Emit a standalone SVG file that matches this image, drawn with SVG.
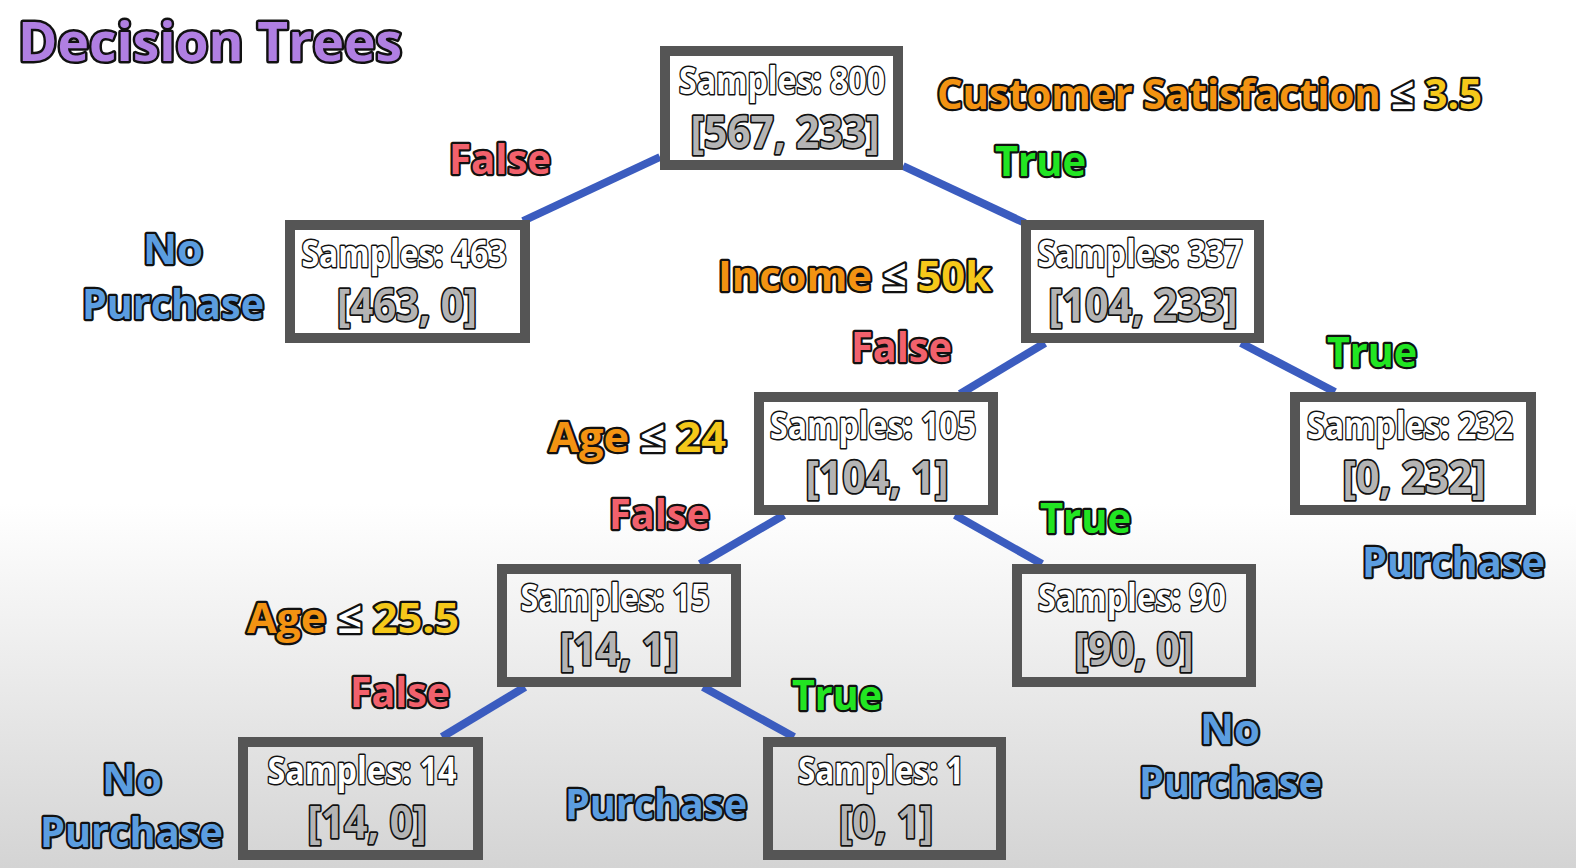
<svg xmlns="http://www.w3.org/2000/svg" width="1576" height="868" viewBox="0 0 1576 868">
<defs>
<linearGradient id="bg" x1="0" y1="0" x2="0" y2="1">
<stop offset="0" stop-color="#ffffff"/>
<stop offset="0.58" stop-color="#ffffff"/>
<stop offset="1" stop-color="#d4d4d4"/>
</linearGradient>
</defs>
<style>
text{font-family:"Open Sans","Liberation Sans",sans-serif;font-weight:700;paint-order:stroke;stroke:#111;stroke-linejoin:round}
.box{fill:none;stroke:#555;stroke-width:10}
.edge{stroke:#3b5cbf;stroke-width:8;stroke-linecap:butt}
.s{font-size:37px;fill:#fff;stroke-width:3;text-anchor:middle}
.v{font-size:45px;fill:#b4b4b4;stroke-width:3.5;text-anchor:middle}
.lab{font-size:42px;stroke-width:4.5}
.f{fill:#f2616c}
.t{fill:#22e522}
.o{fill:#f39312}
.y{fill:#f5c81a}
.w{fill:#ffffff}
.b{fill:#5b9de0}
.title{font-size:54px;fill:#b07fe2;stroke-width:5}
</style>
<rect width="1576" height="868" fill="url(#bg)"/>
<text class="title" x="18" y="61" textLength="384" lengthAdjust="spacingAndGlyphs">Decision Trees</text>

<g id="connectors">
<line class="edge" x1="660" y1="157" x2="523" y2="221"/>
<line class="edge" x1="903" y1="166" x2="1025" y2="223"/>
<line class="edge" x1="1045" y1="343" x2="960" y2="394"/>
<line class="edge" x1="1241" y1="343" x2="1335" y2="392"/>
<line class="edge" x1="784" y1="515" x2="700" y2="564"/>
<line class="edge" x1="955" y1="515" x2="1042" y2="564"/>
<line class="edge" x1="525" y1="687" x2="442" y2="737"/>
<line class="edge" x1="703" y1="687" x2="794" y2="737"/>
</g>

<g id="n800">
<rect class="box" x="665" y="51" width="233" height="114"/>
<text class="s" x="782" y="94" textLength="206" lengthAdjust="spacingAndGlyphs">Samples: 800</text>
<text class="v" x="785" y="148" textLength="189" lengthAdjust="spacingAndGlyphs">[567, 233]</text>
</g>
<g id="n463">
<rect class="box" x="290" y="225" width="235" height="113"/>
<text class="s" x="404" y="267" textLength="205" lengthAdjust="spacingAndGlyphs">Samples: 463</text>
<text class="v" x="407" y="321" textLength="140" lengthAdjust="spacingAndGlyphs">[463, 0]</text>
</g>
<g id="n337">
<rect class="box" x="1026" y="225" width="233" height="113"/>
<text class="s" x="1140" y="267" textLength="205" lengthAdjust="spacingAndGlyphs">Samples: 337</text>
<text class="v" x="1143" y="321" textLength="189" lengthAdjust="spacingAndGlyphs">[104, 233]</text>
</g>
<g id="n105">
<rect class="box" x="759" y="397" width="234" height="113"/>
<text class="s" x="873" y="439" textLength="206" lengthAdjust="spacingAndGlyphs">Samples: 105</text>
<text class="v" x="877" y="493" textLength="143" lengthAdjust="spacingAndGlyphs">[104, 1]</text>
</g>
<g id="n232">
<rect class="box" x="1295" y="397" width="236" height="113"/>
<text class="s" x="1410" y="439" textLength="206" lengthAdjust="spacingAndGlyphs">Samples: 232</text>
<text class="v" x="1414" y="493" textLength="143" lengthAdjust="spacingAndGlyphs">[0, 232]</text>
</g>
<g id="n15">
<rect class="box" x="502" y="569" width="234" height="113"/>
<text class="s" x="615" y="611" textLength="189" lengthAdjust="spacingAndGlyphs">Samples: 15</text>
<text class="v" x="619" y="665" textLength="119" lengthAdjust="spacingAndGlyphs">[14, 1]</text>
</g>
<g id="n90">
<rect class="box" x="1017" y="569" width="234" height="113"/>
<text class="s" x="1132" y="611" textLength="188" lengthAdjust="spacingAndGlyphs">Samples: 90</text>
<text class="v" x="1134" y="665" textLength="119" lengthAdjust="spacingAndGlyphs">[90, 0]</text>
</g>
<g id="n14">
<rect class="box" x="243" y="742" width="235" height="113"/>
<text class="s" x="362" y="784" textLength="189" lengthAdjust="spacingAndGlyphs">Samples: 14</text>
<text class="v" x="367" y="838" textLength="119" lengthAdjust="spacingAndGlyphs">[14, 0]</text>
</g>
<g id="n1">
<rect class="box" x="768" y="742" width="233" height="113"/>
<text class="s" x="881" y="784" textLength="166" lengthAdjust="spacingAndGlyphs">Samples: 1</text>
<text class="v" x="886" y="838" textLength="94" lengthAdjust="spacingAndGlyphs">[0, 1]</text>
</g>

<g id="labels">
<text class="lab" x="937" y="109" textLength="545" lengthAdjust="spacingAndGlyphs"><tspan class="o">Customer Satisfaction </tspan><tspan class="w">≤ </tspan><tspan class="y">3.5</tspan></text>
<text class="lab f" x="449" y="174" textLength="102" lengthAdjust="spacingAndGlyphs">False</text>
<text class="lab t" x="995" y="176" textLength="91" lengthAdjust="spacingAndGlyphs">True</text>
<text class="lab b" x="173" y="264" text-anchor="middle" textLength="60" lengthAdjust="spacingAndGlyphs">No</text>
<text class="lab b" x="82" y="319" textLength="182" lengthAdjust="spacingAndGlyphs">Purchase</text>
<text class="lab" x="718" y="291" textLength="273" lengthAdjust="spacingAndGlyphs"><tspan class="o">Income </tspan><tspan class="w">≤ </tspan><tspan class="y">50k</tspan></text>
<text class="lab f" x="851" y="362" textLength="101" lengthAdjust="spacingAndGlyphs">False</text>
<text class="lab t" x="1327" y="367" textLength="90" lengthAdjust="spacingAndGlyphs">True</text>
<text class="lab" x="549" y="452" textLength="177" lengthAdjust="spacingAndGlyphs"><tspan class="o">Age </tspan><tspan class="w">≤ </tspan><tspan class="y">24</tspan></text>
<text class="lab f" x="609" y="529" textLength="101" lengthAdjust="spacingAndGlyphs">False</text>
<text class="lab t" x="1040" y="533" textLength="91" lengthAdjust="spacingAndGlyphs">True</text>
<text class="lab b" x="1362" y="577" textLength="183" lengthAdjust="spacingAndGlyphs">Purchase</text>
<text class="lab" x="247" y="633" textLength="212" lengthAdjust="spacingAndGlyphs"><tspan class="o">Age </tspan><tspan class="w">≤ </tspan><tspan class="y">25.5</tspan></text>
<text class="lab f" x="350" y="707" textLength="100" lengthAdjust="spacingAndGlyphs">False</text>
<text class="lab t" x="792" y="710" textLength="90" lengthAdjust="spacingAndGlyphs">True</text>
<text class="lab b" x="1230" y="744" text-anchor="middle" textLength="60" lengthAdjust="spacingAndGlyphs">No</text>
<text class="lab b" x="1139" y="797" textLength="183" lengthAdjust="spacingAndGlyphs">Purchase</text>
<text class="lab b" x="565" y="819" textLength="182" lengthAdjust="spacingAndGlyphs">Purchase</text>
<text class="lab b" x="132" y="794" text-anchor="middle" textLength="60" lengthAdjust="spacingAndGlyphs">No</text>
<text class="lab b" x="40" y="847" textLength="183" lengthAdjust="spacingAndGlyphs">Purchase</text>
</g>
</svg>
